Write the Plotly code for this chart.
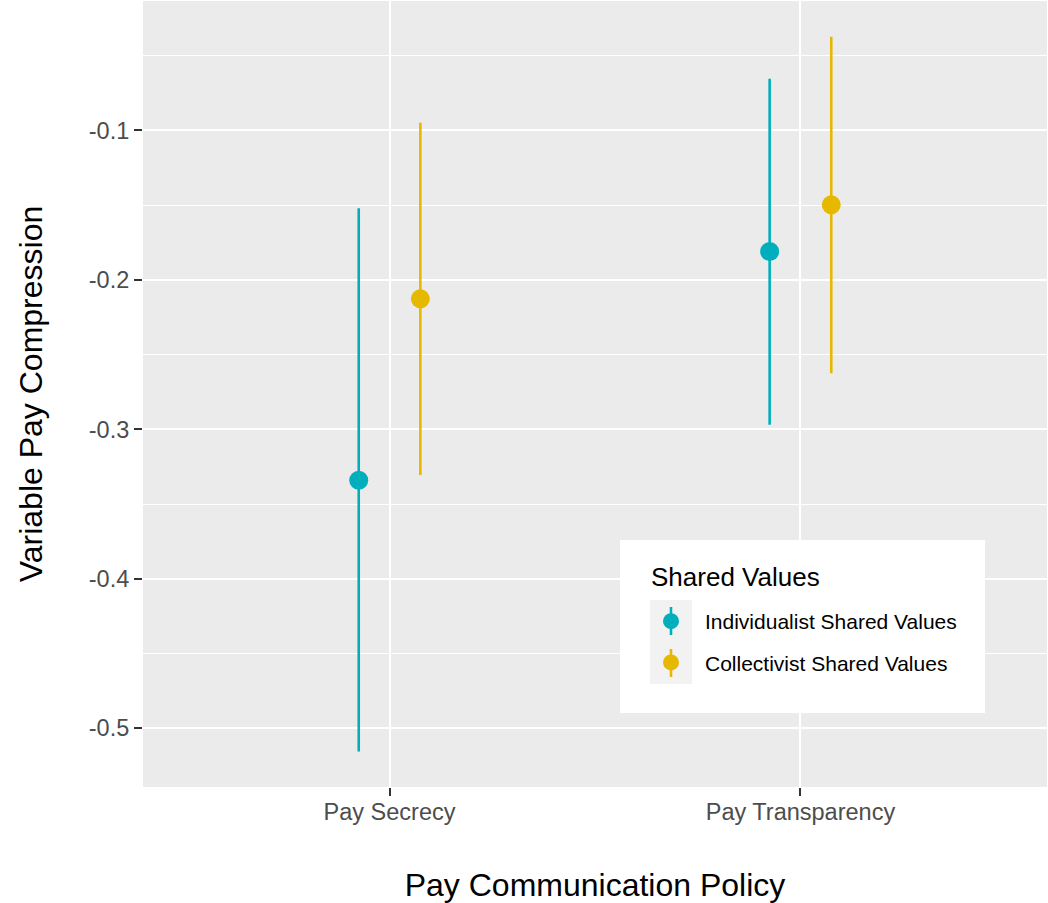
import plotly.graph_objects as go

# Estimated effects with confidence intervals by policy and shared values
policies = ["Pay Secrecy", "Pay Transparency"]
groups = ["Individualist Shared Values", "Collectivist Shared Values"]
colors = ["#00AFBB", "#E7B800"]

individualist_est = [-0.334, -0.181]
individualist_low = [-0.5155, -0.297]
individualist_high = [-0.152, -0.0655]

collectivist_est = [-0.2127, -0.1498]
collectivist_low = [-0.3305, -0.2625]
collectivist_high = [-0.0948, -0.0373]

y_tick_vals = [-0.5, -0.4, -0.3, -0.2, -0.1]
y_tick_text = ["-0.5", "-0.4", "-0.3", "-0.2", "-0.1"]
legend_title = "Shared Values"

dodge = 0.075
series = [
    (groups[0], individualist_est, individualist_low, individualist_high, colors[0], -dodge),
    (groups[1], collectivist_est, collectivist_low, collectivist_high, colors[1], dodge),
]

# pixel geometry of the panel, used to place legend decorations in paper units
PL, PR, PT, PB = 143, 1047, 1, 787
def px(x):
    return (x - PL) / (PR - PL)
def py(y):
    return (PB - y) / (PB - PT)

FONT = "Liberation Sans, Arial, Helvetica, sans-serif"
fig = go.Figure()
for name, est, low, high, col, off in series:
    xs = [i + off for i in range(len(policies))]
    fig.add_trace(go.Scatter(
        x=xs, y=est, mode="markers", name=name, legendgroup=name,
        marker=dict(color=col, size=19, line=dict(width=0)),
        error_y=dict(type="data", symmetric=False,
                     array=[h - e for h, e in zip(high, est)],
                     arrayminus=[e - l for e, l in zip(est, low)],
                     color=col, thickness=2.6, width=0),
    ))

# legend panel (white box with grey key area and interval strokes)
fig.add_shape(type="rect", xref="paper", yref="paper",
              x0=px(620), x1=px(985), y0=py(713), y1=py(540),
              fillcolor="white", line=dict(width=0), layer="above")
fig.add_shape(type="rect", xref="paper", yref="paper",
              x0=px(650), x1=px(692), y0=py(684), y1=py(600),
              fillcolor="#F2F2F2", line=dict(width=0), layer="above")
for cy, col in zip([621, 663], colors):
    fig.add_shape(type="line", xref="paper", yref="paper",
                  x0=px(671), x1=px(671), y0=py(cy + 14), y1=py(cy - 14),
                  line=dict(color=col, width=2.6), layer="above")
fig.add_annotation(text=legend_title, xref="paper", yref="paper",
                   x=px(649), y=py(577), xanchor="left", yanchor="middle",
                   showarrow=False, font=dict(size=26, color="black"))

fig.update_layout(
    width=1048, height=903,
    margin=dict(l=PL, r=1048 - PR, t=PT, b=903 - PB),
    paper_bgcolor="white", plot_bgcolor="#EBEBEB",
    font=dict(family=FONT, color="black"),
    showlegend=True,
    legend=dict(
        font=dict(size=21, color="black"),
        bgcolor="rgba(0,0,0,0)", borderwidth=0,
        x=px(637), xanchor="left",
        y=py(601), yanchor="top",
        itemsizing="trace", itemwidth=58,
        traceorder="grouped", tracegroupgap=11,
    ),
    xaxis=dict(
        range=[-0.6, 1.6], tickvals=list(range(len(policies))), ticktext=policies,
        showgrid=True, gridcolor="white", gridwidth=2.2, zeroline=False,
        ticks="outside", ticklen=8, tickwidth=2, tickcolor="#333333",
        tickfont=dict(size=23.5, color="#4D4D4D"), ticklabelstandoff=-4,
        title=dict(text="Pay Communication Policy", font=dict(size=32, color="black"), standoff=49),
        showline=False, fixedrange=True,
    ),
    yaxis=dict(
        range=[-0.5393, -0.0134], tickvals=y_tick_vals, ticktext=y_tick_text,
        showgrid=True, gridcolor="white", gridwidth=2.2, zeroline=False,
        ticks="outside", ticklen=8, tickwidth=2, tickcolor="#333333",
        tickfont=dict(size=23.5, color="#4D4D4D"),
        minor=dict(tickvals=[-0.55, -0.45, -0.35, -0.25, -0.15, -0.05],
                   showgrid=True, gridcolor="white", gridwidth=1.1, ticks=""),
        title=dict(text="Variable Pay Compression", font=dict(size=32, color="black"), standoff=36),
        showline=False, fixedrange=True,
    ),
)

fig.write_html("out.html")
